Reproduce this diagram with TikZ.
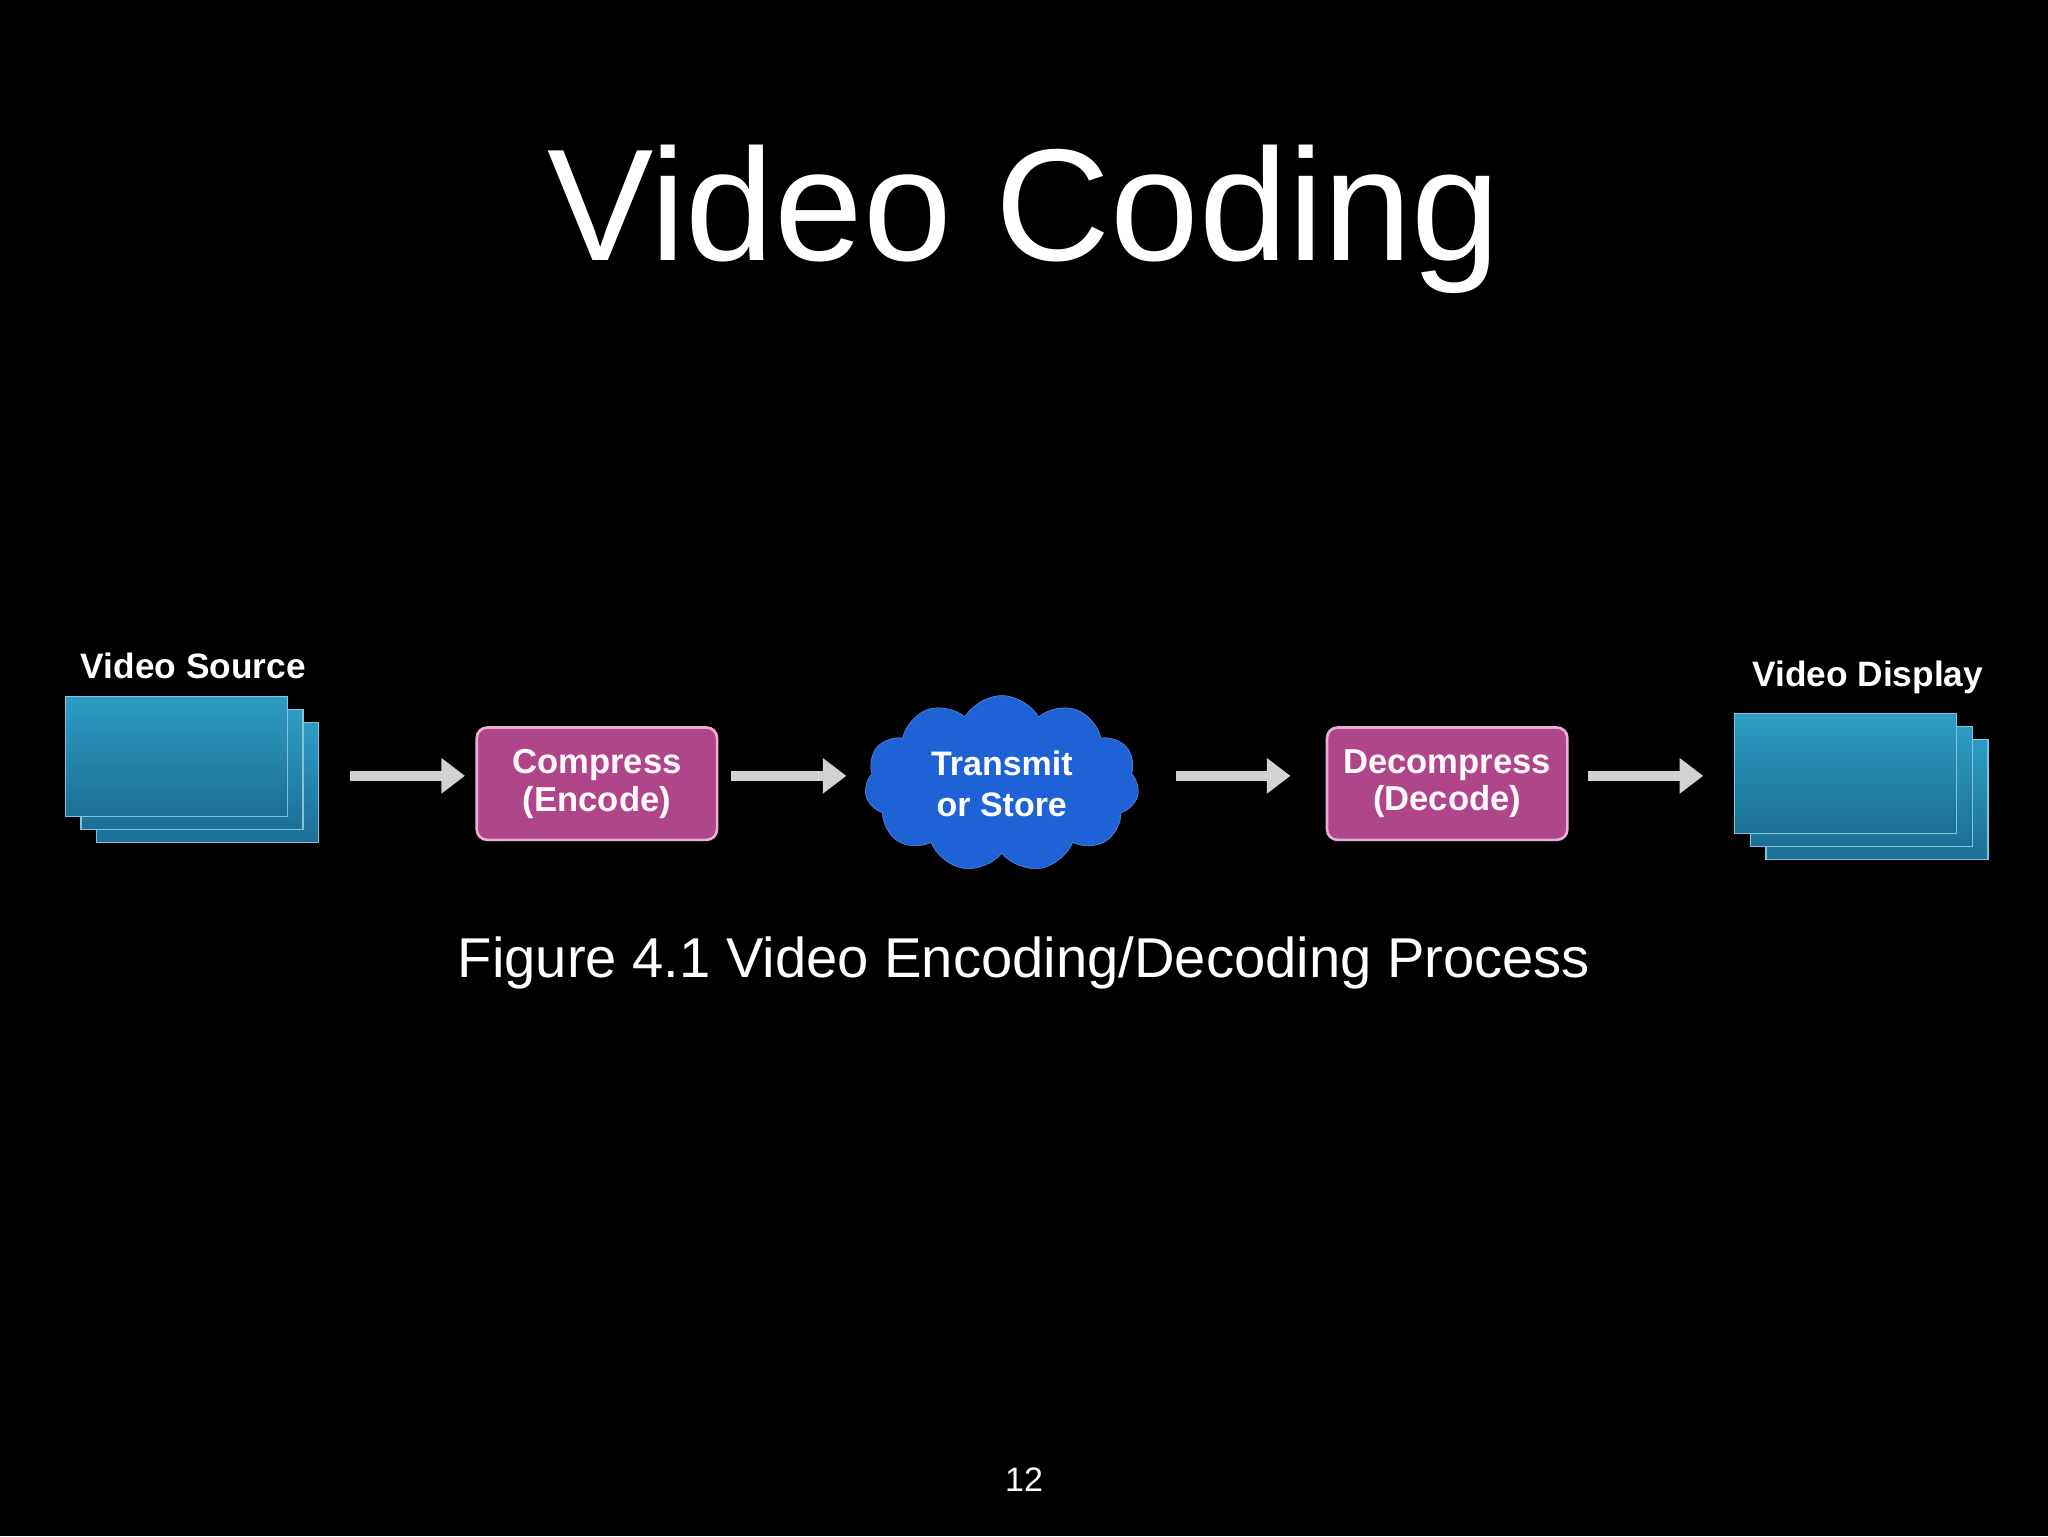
\documentclass[tikz,border=0pt]{standalone}
\usepackage{fontspec}
\setmainfont{Liberation Sans}
\usetikzlibrary{arrows.meta,shapes.symbols}
\definecolor{frameA}{HTML}{2E9CC4}
\definecolor{frameB}{HTML}{1C6F96}
\definecolor{boxfill}{HTML}{B0468A}
\definecolor{boxedge}{HTML}{E8B0D4}
\definecolor{cloudblue}{HTML}{1F62D6}
\definecolor{arrowgray}{HTML}{D2D2D2}
\tikzset{
  frm/.style={draw=frameA!60!white, line width=1pt, top color=frameA, bottom color=frameB, minimum width=170pt, minimum height=92pt, inner sep=0pt},
  procbox/.style={draw=boxedge, line width=2pt, fill=boxfill, rounded corners=8pt, minimum width=184pt, minimum height=86pt, align=center, text=white!90!pink, font=\fontsize{26.5}{29}\selectfont\bfseries},
  lbl/.style={text=white, font=\fontsize{27}{30}\selectfont\bfseries},
  flow/.style={draw=arrowgray, line width=8pt, -{Triangle[length=18pt,width=26pt]}}
}
\begin{document}
\begin{tikzpicture}[x=1pt,y=1pt]
\fill[black] (0,0) rectangle (1568,-1176);
\useasboundingbox (0,0) rectangle (1568,-1176);
\node[text=white, font=\fontsize{122}{130}\selectfont] (title) at (784,-168) {Video Coding};
% source stack
\node[frm] (s3) at (159,-599) {};
\node[frm] (s2) at (147,-589) {};
\node[frm] (s1) at (135,-579) {};
\node[lbl, anchor=south] (srclbl) at (148,-523) {Video Source};
% process
\node[procbox] (enc) at (457,-600) {Compress\\(Encode)};
\node[cloud, cloud puffs=11, cloud puff arc=120, aspect=1.6, fill=cloudblue, draw=cloudblue!70!white, minimum width=210pt, minimum height=135pt, align=center, text=white, font=\fontsize{26}{31}\selectfont\bfseries, inner sep=0pt] (cloud) at (767,-600) {Transmit\\or Store};
\node[procbox] (dec) at (1108,-600) {Decompress\\(Decode)};
% display stack
\node[frm] (d3) at (1437,-612) {};
\node[frm] (d2) at (1425,-602) {};
\node[frm] (d1) at (1413,-592) {};
\node[lbl, anchor=south] (dsplbl) at (1430,-535) {Video Display};
% arrows
\coordinate (a1s) at (268,-594); \coordinate (a1e) at (356,-594);
\coordinate (a2s) at (560,-594); \coordinate (a2e) at (648,-594);
\coordinate (a3s) at (900,-594); \coordinate (a3e) at (988,-594);
\coordinate (a4s) at (1216,-594); \coordinate (a4e) at (1304,-594);
\draw[flow] (a1s) -- (a1e);
\draw[flow] (a2s) -- (a2e);
\draw[flow] (a3s) -- (a3e);
\draw[flow] (a4s) -- (a4e);
\node[text=white, font=\fontsize{43}{46}\selectfont] (cap) at (784,-737) {Figure 4.1 Video Encoding/Decoding Process};
\node[text=white, font=\fontsize{26}{28}\selectfont] (pg) at (784,-1133) {12};
\end{tikzpicture}
\end{document}
